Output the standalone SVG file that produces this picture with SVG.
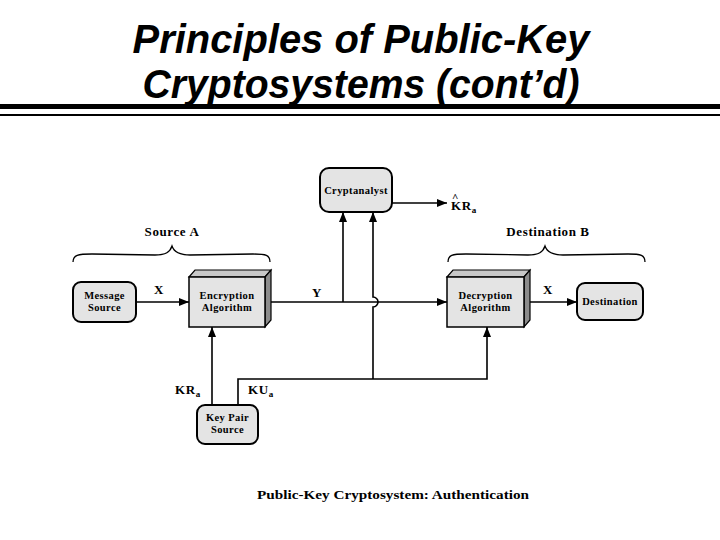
<svg xmlns="http://www.w3.org/2000/svg" width="720" height="540" viewBox="0 0 720 540">
<style>
.title{font-family:"Liberation Sans",Arial,sans-serif;font-weight:bold;font-style:italic;font-size:41px;fill:#000;text-anchor:middle}
.lbl{font-family:"Liberation Serif","Times New Roman",serif;font-weight:bold;font-size:10.5px;letter-spacing:0.4px;fill:#000;text-anchor:middle}
.big{font-family:"Liberation Serif","Times New Roman",serif;font-weight:bold;font-size:13px;letter-spacing:0.6px;fill:#000}
.box{fill:#e4e4e4;stroke:#000;stroke-width:2}
.top{fill:#c8c8c8;stroke:#000;stroke-width:1.2}
.side{fill:#8c8c8c;stroke:#000;stroke-width:1.2}
.ln{fill:none;stroke:#000;stroke-width:1.6}
.brace{fill:none;stroke:#000;stroke-width:1.3}
</style>
<defs>
<marker id="ah" viewBox="0 0 10 8" refX="10" refY="4" markerWidth="10" markerHeight="8" markerUnits="userSpaceOnUse" orient="auto">
<path d="M0,0 L10,4 L0,8 Z" fill="#000"/>
</marker>
</defs>
<rect width="720" height="540" fill="#fff"/>
<g id="title">
<text class="title" x="361" y="53" textLength="457" lengthAdjust="spacingAndGlyphs">Principles of Public-Key</text>
<text class="title" x="361" y="98" textLength="437" lengthAdjust="spacingAndGlyphs">Cryptosystems (cont’d)</text>
<rect x="0" y="104" width="720" height="5" fill="#000"/>
<rect x="0" y="114" width="720" height="2" fill="#000"/>
</g>
<g id="braces">
<path class="brace" d="M73,262 C73,255 78,254 92,254 L155,255 C166,255 170,252 172,246 C174,252 179,255 190,255 L253,254 C266,254 270,255 270,262"/>
<text class="big" x="172" y="236" text-anchor="middle">Source A</text>
<path class="brace" d="M448,262 C448,255 452,254 466,254 L528,255 C539,255 543,252 545,246 C547,252 552,255 563,255 L628,254 C641,254 645,255 645,262"/>
<text class="big" x="548" y="236" text-anchor="middle" letter-spacing="0.9">Destination B</text>
</g>
<g id="connectors">
<line class="ln" x1="136" y1="302" x2="189" y2="302" marker-end="url(#ah)"/>
<line class="ln" x1="271" y1="302" x2="447" y2="302" marker-end="url(#ah)"/>
<line class="ln" x1="343" y1="302" x2="343" y2="212" stroke-width="2" marker-end="url(#ah)"/>
<path class="ln" d="M373,379 L373,307 A5,5 0 0 0 373,297 L373,212" stroke-width="2" marker-end="url(#ah)"/>
<path class="ln" d="M238,405 L238,379 L487,379 L487,327" marker-end="url(#ah)"/>
<line class="ln" x1="212" y1="405" x2="212" y2="327" marker-end="url(#ah)"/>
<line class="ln" x1="392" y1="203" x2="447" y2="203" marker-end="url(#ah)"/>
<line class="ln" x1="530" y1="302" x2="577" y2="302" marker-end="url(#ah)"/>
</g>
<g id="message-source">
<rect class="box" x="73" y="282" width="63" height="40" rx="8"/>
<text class="lbl" x="104.5" y="299">Message</text>
<text class="lbl" x="104.5" y="311">Source</text>
</g>
<g id="encryption">
<polygon class="top" points="189,277 195,270 271,270 265,277"/>
<polygon class="side" points="265,277 271,270 271,320 265,327"/>
<rect x="189" y="277" width="76" height="50" fill="#e4e4e4" stroke="#000" stroke-width="1.5"/>
<text class="lbl" x="227" y="299">Encryption</text>
<text class="lbl" x="227" y="311">Algorithm</text>
</g>
<g id="cryptanalyst">
<rect class="box" x="320" y="168" width="72" height="44" rx="9"/>
<text class="lbl" x="356" y="194" letter-spacing="0.2">Cryptanalyst</text>
</g>
<g id="decryption">
<polygon class="top" points="447,277 453,270 530,270 524,277"/>
<polygon class="side" points="524,277 530,270 530,320 524,327"/>
<rect x="447" y="277" width="77" height="50" fill="#e4e4e4" stroke="#000" stroke-width="1.5"/>
<text class="lbl" x="485.5" y="299">Decryption</text>
<text class="lbl" x="485.5" y="311">Algorithm</text>
</g>
<g id="destination">
<rect class="box" x="577" y="283" width="66" height="37" rx="8"/>
<text class="lbl" x="610" y="305" letter-spacing="0.2">Destination</text>
</g>
<g id="key-pair-source">
<rect class="box" x="197" y="405" width="61" height="39" rx="8"/>
<text class="lbl" x="227.5" y="421">Key Pair</text>
<text class="lbl" x="227.5" y="433">Source</text>
</g>
<g id="labels">
<text class="big" x="154" y="294">X</text>
<text class="big" x="312" y="297">Y</text>
<text class="big" x="543" y="294">X</text>
<text class="big" x="175" y="394">KR<tspan font-size="9" dy="3">a</tspan></text>
<text class="big" x="248" y="394">KU<tspan font-size="9" dy="3">a</tspan></text>
<text class="big" x="452" y="201"><tspan font-size="11">^</tspan><tspan x="451" y="210">KR</tspan><tspan font-size="9" dy="3">a</tspan></text>
</g>
<text x="393" y="499" text-anchor="middle" font-family="'Liberation Serif','Times New Roman',serif" font-weight="bold" font-size="13.5" textLength="272" lengthAdjust="spacingAndGlyphs">Public-Key Cryptosystem: Authentication</text>
</svg>
